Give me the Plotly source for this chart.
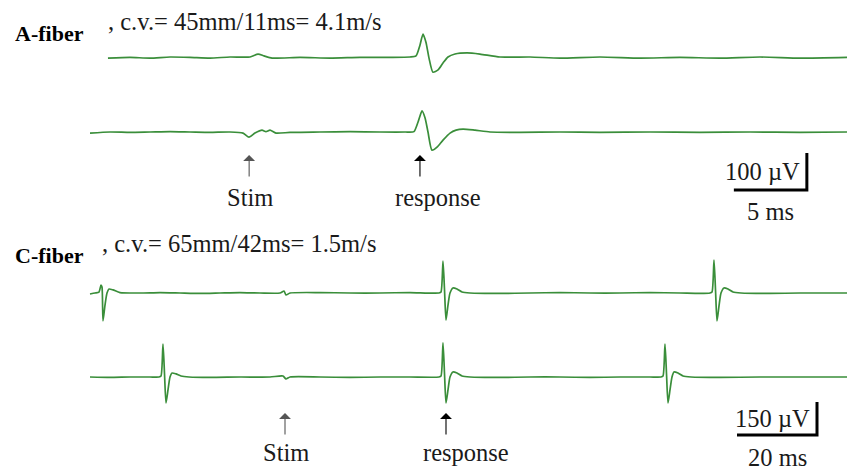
import plotly.graph_objects as go

# ---------------- data (time in ms, voltage in µV) ----------------
a_top_t = [1.23, 2.74, 4.11, 5.48, 6.85, 8.22, 9.59, 10.96, 11.51, 11.92, 12.47, 14.38, 16.44,
           18.49, 20.55, 21.92, 22.33, 22.60, 22.81, 23.01, 23.22, 23.49, 23.84, 24.18, 24.52,
           25.00, 25.82, 26.71, 28.08, 30.14, 32.19, 34.93, 37.67, 40.41, 43.15, 45.89, 48.63, 51.85]
a_top_v = [-3, -1, -3, 0, -1, -3, 0, 0, 8, 3, -3, -1, -3,
           -1, -1, 0, 3, 32, 62, 40, -3, -41, -35, -16, 0,
           8, 11, 8, 0, 0, -3, 0, -3, -1, -3, 0, -3, -1]

a_bot_t = [0.0, 1.37, 2.74, 4.11, 5.48, 6.85, 8.22, 9.59, 10.48, 10.89, 11.30, 11.78, 12.05,
           12.33, 12.74, 13.70, 15.75, 17.81, 19.86, 21.58, 22.19, 22.47, 22.74, 22.95, 23.15,
           23.42, 23.77, 24.18, 24.66, 25.07, 25.55, 26.37, 27.40, 29.45, 32.19, 34.93, 38.36,
           41.78, 45.21, 48.63, 51.85]
a_bot_v = [-3, 0, -1, 0, 1, 0, -1, 0, -3, -14, -3, 5, 1,
           5, -3, -1, 0, 1, 0, 0, 1, 27, 57, 38, 0,
           -49, -41, -22, -3, 5, 8, 5, 0, -1, 0, -1, 0,
           -1, 0, -1, 0]

c_top_t = [0.0, 1.25, 2.25, 2.75, 3.0, 3.25, 3.75, 4.25, 4.75, 5.75, 7.5, 12.5, 17.5, 22.5, 27.5,
           32.5, 37.5, 42.5, 47.5, 48.5, 49.0, 50.0, 57.5, 65.0, 72.5, 80.0, 87.25, 87.75, 88.25,
           88.63, 89.0, 89.5, 90.0, 90.75, 91.75, 93.0, 95.0, 102.5, 110.0, 117.5, 125.0, 132.5,
           140.0, 147.5, 152.5, 155.0, 155.5, 156.0, 156.38, 156.75, 157.25, 157.75, 158.5, 159.5,
           160.75, 162.75, 170.0, 177.5, 189.25]
c_top_v = [-4.5, 0, 4.5, 36, 27, -127, -55, 0, 18, 14, 2, 0, 2, 0, -2,
           0, 2, 0, 0, 9, -9, 0, 2, 0, 0, 2, 0, 4.5, 145,
           14, -123, -55, 0, 23, 18, 4.5, 0, -2, 0, 2, 0, 0,
           2, 0, -2, 0, 4.5, 150, 14, -127, -59, 0, 23, 18,
           4.5, 0, -2, 0, 0]

c_bot_t = [0.0, 5.0, 10.0, 15.0, 17.25, 17.75, 18.25, 18.63, 19.0, 19.5, 20.0, 20.5, 21.5, 22.75,
           24.75, 30.0, 37.5, 45.0, 48.25, 49.0, 50.0, 57.5, 65.0, 72.5, 80.0, 87.25, 87.75, 88.25,
           88.63, 89.0, 89.5, 90.0, 90.75, 91.75, 93.0, 95.0, 102.5, 110.0, 117.5, 125.0, 132.5,
           140.0, 142.75, 143.25, 143.75, 144.13, 144.5, 145.0, 145.5, 146.0, 147.0, 148.25, 150.25,
           157.5, 167.5, 177.5, 189.25]
c_bot_v = [0, -2, 0, 0, 0, 4.5, 150, 14, -118, -59, 0, 18, 14, 4.5,
           0, -2, 0, 0, 4.5, -9, 0, 0, -2, 0, 0, 0, 4.5, 155,
           14, -118, -59, 0, 23, 18, 4.5, 0, -2, 0, 0, -2, 0,
           0, 0, 4.5, 150, 14, -118, -59, 0, 23, 18, 4.5, 0,
           -2, 0, 0, 0]

a_stim_ms, a_resp_ms = 10.9, 22.6
c_stim_ms, c_resp_ms = 48.75, 89.0
a_scale_ms, a_scale_uv = 5, 100
c_scale_ms, c_scale_uv = 20, 150

a_title = ", c.v.= 45mm/11ms= 4.1m/s"
c_title = ", c.v.= 65mm/42ms= 1.5m/s"

# ---------------- layout constants (pixels) ----------------
W, H = 847, 473
X0 = 90                      # pixel where t = 0
A_PX_MS, A_PX_UV = 14.6, 0.37
C_PX_MS, C_PX_UV = 4.0, 0.22
BASE_A1, BASE_A2, BASE_C1, BASE_C2 = 57, 132, 293, 377

GREEN = "rgb(58,142,58)"
SERIF = "Liberation Serif"
TXT = "#1a1a1a"


def yrange(base_px, px_per_uv):
    return [-(H - base_px) / px_per_uv, base_px / px_per_uv]


def xrange(px_per_ms):
    return [-X0 / px_per_ms, (W - X0) / px_per_ms]


fig = go.Figure()
line = dict(color=GREEN, width=1.7, shape="spline", smoothing=0.6)
fig.add_trace(go.Scatter(x=a_top_t, y=a_top_v, xaxis="x", yaxis="y", mode="lines", line=line))
fig.add_trace(go.Scatter(x=a_bot_t, y=a_bot_v, xaxis="x", yaxis="y2", mode="lines", line=line))
fig.add_trace(go.Scatter(x=c_top_t, y=c_top_v, xaxis="x2", yaxis="y3", mode="lines", line=line))
fig.add_trace(go.Scatter(x=c_bot_t, y=c_bot_v, xaxis="x2", yaxis="y4", mode="lines", line=line))

# scale bars (L shape) on the bottom trace axes
a_corner_t, a_corner_v = 49.1, -157
c_corner_t, c_corner_v = 181.75, -264
fig.add_trace(go.Scatter(x=[a_corner_t - a_scale_ms, a_corner_t, a_corner_t],
                         y=[a_corner_v, a_corner_v, a_corner_v + a_scale_uv],
                         xaxis="x", yaxis="y2", mode="lines",
                         line=dict(color="black", width=3)))
fig.add_trace(go.Scatter(x=[c_corner_t - c_scale_ms, c_corner_t, c_corner_t],
                         y=[c_corner_v, c_corner_v, c_corner_v + c_scale_uv],
                         xaxis="x2", yaxis="y4", mode="lines",
                         line=dict(color="black", width=3)))

hidden = dict(visible=False, fixedrange=True)
fig.update_layout(
    width=W, height=H, margin=dict(l=0, r=0, t=0, b=0),
    paper_bgcolor="white", plot_bgcolor="white", showlegend=False, hovermode=False,
    xaxis=dict(domain=[0, 1], range=xrange(A_PX_MS), anchor="y", **hidden),
    xaxis2=dict(domain=[0, 1], range=xrange(C_PX_MS), overlaying="x", anchor="y", **hidden),
    yaxis=dict(domain=[0, 1], range=yrange(BASE_A1, A_PX_UV), anchor="x", **hidden),
    yaxis2=dict(domain=[0, 1], range=yrange(BASE_A2, A_PX_UV), overlaying="y", anchor="x", **hidden),
    yaxis3=dict(domain=[0, 1], range=yrange(BASE_C1, C_PX_UV), overlaying="y", anchor="x", **hidden),
    yaxis4=dict(domain=[0, 1], range=yrange(BASE_C2, C_PX_UV), overlaying="y", anchor="x", **hidden),
)


def py(px):
    return 1 - px / H


def px_(x):
    return x / W


ann = []
FS = 24.5


def text(t, x, y, xref="paper", yref="paper", xanchor="center", size=FS, bold=False, **kw):
    ann.append(dict(text=f"<b>{t}</b>" if bold else t, x=x, y=y, xref=xref, yref=yref,
                    xanchor=xanchor, yanchor="middle", showarrow=False,
                    font=dict(family=SERIF, size=size, color="black" if bold else TXT), **kw))


# panel labels and titles
text("A-fiber", px_(49), py(33), size=22, bold=True)
text("C-fiber", px_(49), py(255), size=22, bold=True)
text(a_title, px_(106), py(22), xanchor="left")
text(c_title, px_(100), py(243), xanchor="left")

# arrows and their labels
for xr, t, label, ytip, ytext, shift, col in [
    ("x", a_stim_ms, "Stim", 155, 197, 1, "#555"),
    ("x", a_resp_ms, "response", 155, 197, 18, "black"),
    ("x2", c_stim_ms, "Stim", 413, 452, 1, "#555"),
    ("x2", c_resp_ms, "response", 413, 452, 20, "black"),
]:
    ann.append(dict(text="", x=t, y=py(ytip), xref=xr, yref="paper", showarrow=True,
                    ax=0, ay=23, arrowhead=1, arrowsize=1.8, arrowwidth=1.1, arrowcolor=col))
    text(label, t, py(ytext), xref=xr, xshift=shift)

# scale bar labels
text("100 µV", a_corner_t, a_corner_v + a_scale_uv / 2, xref="x", yref="y2",
     xanchor="right", xshift=-5)
text("5 ms", a_corner_t - a_scale_ms / 2, py(212), xref="x")
text("150 µV", c_corner_t, c_corner_v + c_scale_uv / 2, xref="x2", yref="y4",
     xanchor="right", xshift=-5)
text("20 ms", c_corner_t - c_scale_ms / 2, py(457), xref="x2")

fig.update_layout(annotations=ann)
fig.write_html("out.html")
